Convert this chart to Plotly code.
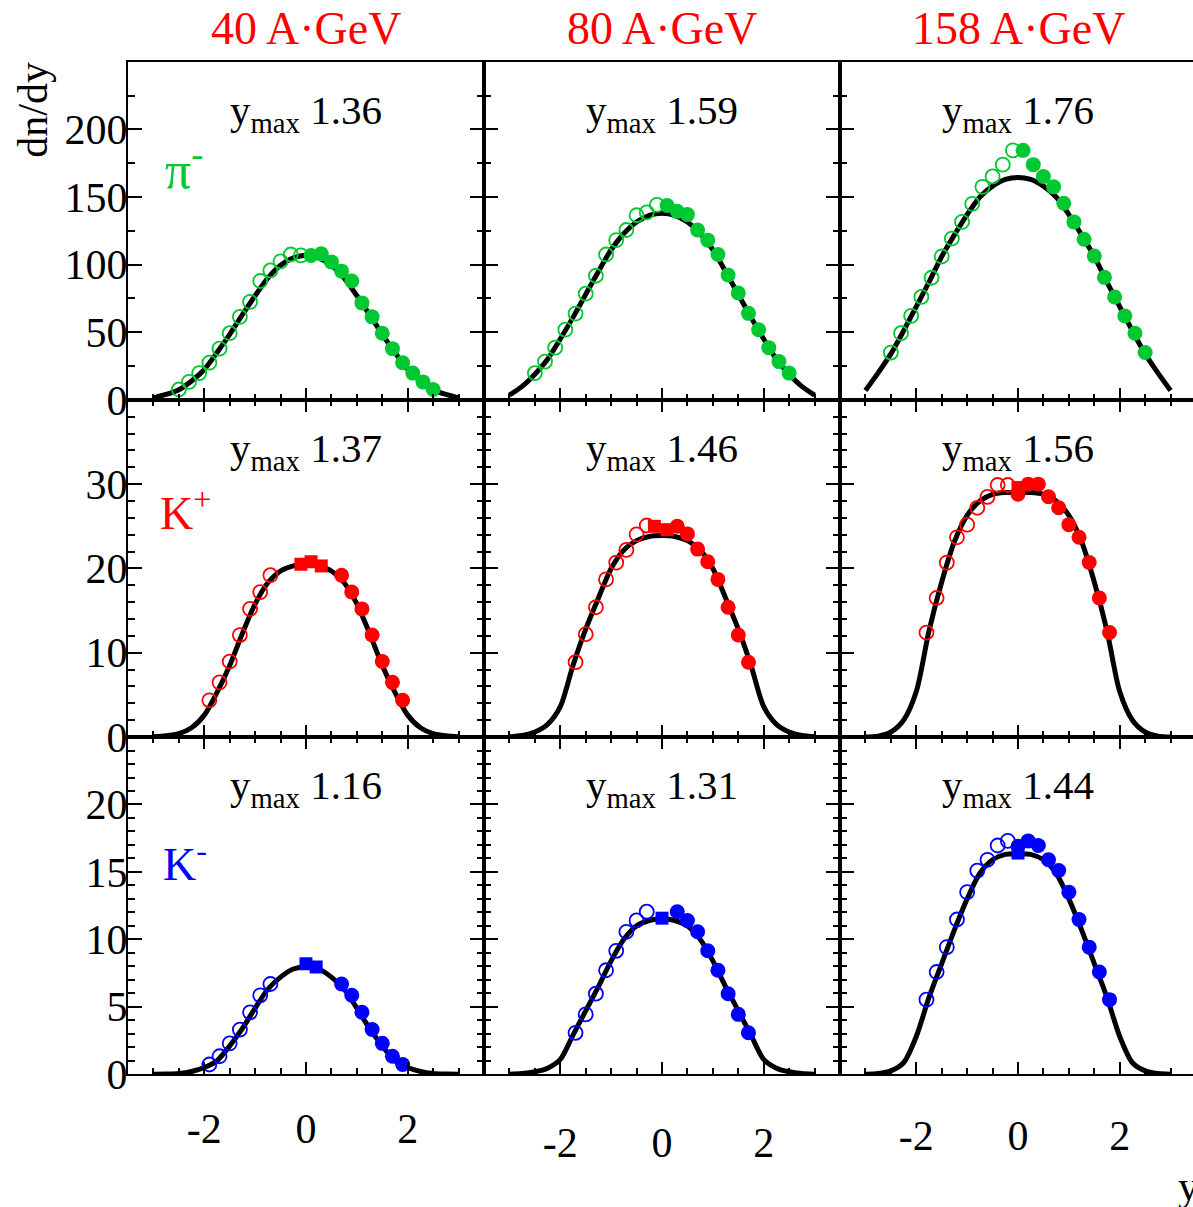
import plotly.graph_objects as go

W, H = 1193, 1207

# ---------------- data ----------------
energies = ["40 A·GeV", "80 A·GeV", "158 A·GeV"]
species = ["π<sup>-</sup>", "K<sup>+</sup>", "K<sup>-</sup>"]
ymax_values = [["1.36", "1.59", "1.76"],
               ["1.37", "1.46", "1.56"],
               ["1.16", "1.31", "1.44"]]

curve_rap = [-3.0, -2.75, -2.5, -2.25, -2.0, -1.75, -1.5, -1.25, -1.0, -0.75, -0.5, -0.25, 0.0,
             0.25, 0.5, 0.75, 1.0, 1.25, 1.5, 1.75, 2.0, 2.25, 2.5, 2.75, 3.0]

# pi- curves
pi40_curve = [1.5, 4, 7.5, 14, 22.5, 35, 48.5, 63, 77, 90, 99.5, 105, 107,
              105, 99.5, 90, 77, 63, 48.5, 35, 22.5, 14, 7.5, 4, 1.5]
pi80_curve = [3.5, 10, 19, 30, 45, 61, 78, 95, 111, 123, 131.5, 136.5, 138,
              136.5, 131.5, 123, 111, 95, 78, 61, 45, 30, 19, 10, 3.5]
pi158_curve = [7, 20, 34, 51, 69, 87, 106, 122, 137, 150, 158, 163, 164.5,
               163, 158, 150, 137, 122, 106, 87, 69, 51, 34, 20, 7]
# K+ curves
kp40_curve = [0.05, 0.15, 0.4, 1.1, 2.6, 5.3, 8.5, 12.3, 15.8, 18.3, 19.7, 20.3, 20.5,
              20.3, 19.7, 18.3, 15.8, 12.3, 8.5, 5.3, 2.6, 1.1, 0.4, 0.15, 0.05]
kp80_curve = [0.05, 0.2, 0.6, 1.5, 3.6, 8.5, 12.8, 16.5, 20.0, 22.2, 23.3, 23.8, 23.9,
              23.8, 23.3, 22.2, 20.0, 16.5, 12.8, 8.5, 3.6, 1.5, 0.6, 0.2, 0.05]
kp158_curve = [0.0, 0.1, 0.6, 2.0, 5.4, 12.6, 18.4, 23.2, 26.3, 28.0, 28.8, 29.0, 29.0,
               29.0, 28.8, 28.0, 26.3, 23.2, 18.4, 12.6, 5.4, 2.0, 0.6, 0.1, 0.0]
# K- curves
km40_curve = [0.0, 0.01, 0.05, 0.2, 0.5, 1.0, 2.1, 3.4, 4.9, 6.3, 7.2, 7.8, 7.95,
              7.8, 7.2, 6.3, 4.9, 3.4, 2.1, 1.0, 0.5, 0.2, 0.05, 0.01, 0.0]
km80_curve = [0.0, 0.05, 0.18, 0.45, 1.1, 2.9, 4.7, 6.5, 8.4, 10.0, 11.0, 11.4, 11.5,
              11.4, 11.0, 10.0, 8.4, 6.5, 4.7, 2.9, 1.1, 0.45, 0.18, 0.05, 0.0]
km158_curve = [0.0, 0.05, 0.25, 0.85, 2.8, 5.7, 8.2, 10.7, 13.0, 14.9, 15.9, 16.3, 16.35,
               16.3, 15.9, 14.9, 13.0, 10.7, 8.2, 5.7, 2.8, 0.85, 0.25, 0.05, 0.0]

# pi- data: open (reflected) and filled (measured) points
pi_open_rap = [-2.5, -2.3, -2.1, -1.9, -1.7, -1.5, -1.3, -1.1, -0.9, -0.7, -0.5, -0.3, -0.1]
pi_fill_rap = [0.1, 0.3, 0.5, 0.7, 0.9, 1.1, 1.3, 1.5, 1.7, 1.9, 2.1, 2.3, 2.5]
pi40_open = [7.7, 13.3, 19.8, 27.5, 37.9, 49.3, 61.4, 72.5, 87.9, 95.7, 102.4, 107.5, 106.8]
pi40_fill = [106.8, 108, 102, 95.2, 87.9, 71.7, 61.4, 49.3, 37.9, 27.5, 19.8, 13.3, 7.7]
pi80_open = [19.8, 28.3, 38.6, 51.9, 63.8, 78.5, 91.8, 107.5, 118.1, 125.6, 136.5, 138.6, 144.2]
pi80_fill = [143.7, 139.4, 137.0, 125.6, 118.1, 107.5, 92.3, 79.0, 64.0, 51.9, 38.6, 28.3, 19.8]
pi158_open = [35.0, 49.3, 62.1, 76.1, 90.3, 106, 119.3, 131.6, 144.9, 157.5, 165.2, 173.9, 184.5]
pi158_fill = [184.5, 173.9, 165.2, 157.5, 145.4, 131.6, 118.8, 106.3, 90.6, 76.1, 62.1, 49.3, 35.0]

# K+ data
kp40_open_rap = [-1.9, -1.7, -1.5, -1.3, -1.1, -0.9, -0.7]
kp40_open = [4.36, 6.49, 8.96, 12.1, 15.2, 17.2, 19.2]
kp40_sq_rap = [-0.1, 0.1, 0.3]
kp40_sq = [20.5, 20.8, 20.3]
kp40_fill_rap = [0.7, 0.9, 1.1, 1.3, 1.5, 1.7, 1.9]
kp40_fill = [19.2, 17.2, 15.2, 12.1, 8.96, 6.49, 4.36]

kp80_open_rap = [-1.7, -1.5, -1.3, -1.1, -0.9, -0.7, -0.5, -0.3]
kp80_open = [8.88, 12.2, 15.4, 18.7, 20.7, 22.2, 24.05, 25.1]
kp80_sq_rap = [-0.15, 0.1]
kp80_sq = [25.0, 24.6]
kp80_sq_err = [0.6, 0.0]
kp80_fill_rap = [0.3, 0.5, 0.7, 0.9, 1.1, 1.3, 1.5, 1.7]
kp80_fill = [25.0, 24.1, 22.3, 20.8, 18.7, 15.4, 12.1, 8.88]

kp158_open_rap = [-1.8, -1.6, -1.4, -1.2, -1.0, -0.8, -0.6, -0.4, -0.2]
kp158_open = [12.4, 16.5, 20.7, 23.7, 25.2, 27.2, 28.5, 29.9, 29.9]
kp158_sq_rap = [0.0]
kp158_sq = [29.6]
kp158_sq_err = [0.6]
kp158_fill_rap = [0.0, 0.2, 0.4, 0.6, 0.8, 1.0, 1.2, 1.4, 1.6, 1.8]
kp158_fill = [28.8, 30.0, 30.0, 28.5, 27.2, 25.2, 23.7, 20.7, 16.5, 12.4]

# K- data
km40_open_rap = [-1.9, -1.7, -1.5, -1.3, -1.1, -0.9, -0.7]
km40_open = [0.72, 1.33, 2.29, 3.31, 4.59, 5.85, 6.69]
km40_sq_rap = [0.0, 0.2]
km40_sq = [8.19, 7.95]
km40_fill_rap = [0.7, 0.9, 1.1, 1.3, 1.5, 1.7, 1.9]
km40_fill = [6.69, 5.85, 4.59, 3.31, 2.29, 1.33, 0.72]

km80_open_rap = [-1.7, -1.5, -1.3, -1.1, -0.9, -0.7, -0.5, -0.3]
km80_open = [3.07, 4.44, 5.97, 7.71, 9.15, 10.56, 11.4, 12.05]
km80_sq_rap = [0.0]
km80_sq = [11.57]
km80_fill_rap = [0.3, 0.5, 0.7, 0.9, 1.1, 1.3, 1.5, 1.7]
km80_fill = [12.05, 11.4, 10.56, 9.15, 7.71, 5.97, 4.44, 3.07]

km158_open_rap = [-1.8, -1.6, -1.4, -1.2, -1.0, -0.8, -0.6, -0.4, -0.2]
km158_open = [5.53, 7.58, 9.42, 11.47, 13.5, 15.1, 15.9, 16.96, 17.3]
km158_sq_rap = [0.0]
km158_sq = [16.4]
km158_fill_rap = [0.0, 0.2, 0.4, 0.6, 0.8, 1.0, 1.2, 1.4, 1.6, 1.8]
km158_fill = [16.9, 17.3, 16.96, 15.9, 15.1, 13.5, 11.47, 9.42, 7.58, 5.53]

# axis ticks
x_tickvals = [-2, 0, 2]
x_ticktext = ["-2", "0", "2"]
y_tickvals = [[0, 50, 100, 150, 200], [0, 10, 20, 30], [0, 5, 10, 15, 20]]
y_ranges = [[0, 250], [0, 40], [0, 25]]
y_minor = [25, 2, 1]

# ---------------- styling ----------------
GREEN = "rgb(0,200,50)"
RED = "rgb(255,0,0)"
BLUE = "rgb(0,0,255)"
row_colors = [GREEN, RED, BLUE]
FONT = "Liberation Serif"

panels = [
    [dict(curve=pi40_curve, open=(pi_open_rap, pi40_open), fill=(pi_fill_rap, pi40_fill)),
     dict(curve=pi80_curve, open=(pi_open_rap, pi80_open), fill=(pi_fill_rap, pi80_fill)),
     dict(curve=pi158_curve, open=(pi_open_rap, pi158_open), fill=(pi_fill_rap, pi158_fill))],
    [dict(curve=kp40_curve, open=(kp40_open_rap, kp40_open), fill=(kp40_fill_rap, kp40_fill),
          sq=(kp40_sq_rap, kp40_sq, None)),
     dict(curve=kp80_curve, open=(kp80_open_rap, kp80_open), fill=(kp80_fill_rap, kp80_fill),
          sq=(kp80_sq_rap, kp80_sq, kp80_sq_err)),
     dict(curve=kp158_curve, open=(kp158_open_rap, kp158_open), fill=(kp158_fill_rap, kp158_fill),
          sq=(kp158_sq_rap, kp158_sq, kp158_sq_err))],
    [dict(curve=km40_curve, open=(km40_open_rap, km40_open), fill=(km40_fill_rap, km40_fill),
          sq=(km40_sq_rap, km40_sq, None)),
     dict(curve=km80_curve, open=(km80_open_rap, km80_open), fill=(km80_fill_rap, km80_fill),
          sq=(km80_sq_rap, km80_sq, None)),
     dict(curve=km158_curve, open=(km158_open_rap, km158_open), fill=(km158_fill_rap, km158_fill),
          sq=(km158_sq_rap, km158_sq, None))],
]

col_px = [(128, 484), (484, 840), (840, 1193)]
row_px = [(63, 408), (408, 752), (752, 1096)]
px_per_unit = 356 / 7.0
x_label_standoff = [16, 30, 23]

fig = go.Figure()
layout = dict(
    width=W, height=H, margin=dict(l=0, r=0, t=0, b=0),
    paper_bgcolor="white", plot_bgcolor="white", showlegend=False,
    font=dict(family=FONT, color="black"),
)

annotations = []
for r in range(3):
    for c in range(3):
        k = r * 3 + c + 1
        xa = "x" if k == 1 else f"x{k}"
        ya = "y" if k == 1 else f"y{k}"
        p = panels[r][c]
        col = row_colors[r]
        fig.add_trace(go.Scatter(x=curve_rap, y=p["curve"], mode="lines",
                                 line=dict(color="black", width=5, shape="spline", smoothing=0.8),
                                 xaxis=xa, yaxis=ya, hoverinfo="skip"))
        ox, oy = p["open"]
        fig.add_trace(go.Scatter(x=ox, y=oy, mode="markers",
                                 marker=dict(symbol="circle-open", size=14, color=col,
                                             line=dict(width=1.8, color=col)),
                                 xaxis=xa, yaxis=ya))
        if "sq" in p:
            sx, sy, se = p["sq"]
            kw = {}
            if se is not None:
                kw["error_y"] = dict(type="data", array=se, color=col, thickness=2, width=0)
            fig.add_trace(go.Scatter(x=sx, y=sy, mode="markers",
                                     marker=dict(symbol="square", size=13, color=col),
                                     xaxis=xa, yaxis=ya, **kw))
        fx, fy = p["fill"]
        fig.add_trace(go.Scatter(x=fx, y=fy, mode="markers",
                                 marker=dict(symbol="circle", size=15, color=col),
                                 xaxis=xa, yaxis=ya))

        x0, x1 = col_px[c]
        y0, y1 = row_px[r]
        xrange = [-3.5, -3.5 + (x1 - x0) / px_per_unit]
        xkey = "xaxis" if k == 1 else f"xaxis{k}"
        ykey = "yaxis" if k == 1 else f"yaxis{k}"
        layout[xkey] = dict(
            domain=[x0 / W, x1 / W], anchor=ya, range=xrange,
            showgrid=False, zeroline=False, showline=True, linecolor="black", linewidth=2,
            mirror=True if r == 0 else "ticks",
            ticks="inside", ticklen=12, tickwidth=2, tickcolor="black",
            tickmode="array", tickvals=x_tickvals, ticktext=x_ticktext,
            showticklabels=(r == 2), ticklabelstandoff=x_label_standoff[c],
            tickfont=dict(family=FONT, size=42, color="black"),
            minor=dict(ticks="inside", dtick=0.5, tick0=0, ticklen=6, tickwidth=2,
                       tickcolor="black", showgrid=False),
            fixedrange=True,
        )
        layout[ykey] = dict(
            domain=[1 - y1 / H, 1 - y0 / H], anchor=xa, range=y_ranges[r],
            showgrid=False, zeroline=False, showline=True, linecolor="black", linewidth=2,
            mirror="ticks" if c < 2 else False,
            ticks="inside", ticklen=14, tickwidth=2, tickcolor="black",
            tickmode="array", tickvals=y_tickvals[r],
            showticklabels=(c == 0), ticklabelstandoff=-10,
            tickfont=dict(family=FONT, size=42, color="black"),
            minor=dict(ticks="inside", dtick=y_minor[r], tick0=0, ticklen=7, tickwidth=2,
                       tickcolor="black", showgrid=False),
            fixedrange=True,
        )
        # y_max label
        annotations.append(dict(
            x=(x0 + 178) / W, y=1 - (y0 + 52) / H, xref="paper", yref="paper",
            text="y<sub>max</sub>\u00a0" + ymax_values[r][c], showarrow=False,
            xanchor="center", yanchor="middle",
            font=dict(family=FONT, size=41, color="black")))

# column headers
for c in range(3):
    x0, x1 = col_px[c]
    annotations.append(dict(
        x=(x0 + 178) / W, y=1 - 29 / H, xref="paper", yref="paper",
        text=energies[c], showarrow=False, xanchor="center", yanchor="middle",
        font=dict(family=FONT, size=46, color=RED)))

# species labels
species_pos = [(163, 170, 52), (158, 520, 46), (161, 878, 46)]
for r in range(3):
    sx, sy, fs = species_pos[r]
    annotations.append(dict(
        x=sx / W, y=1 - sy / H, xref="paper", yref="paper",
        text=species[r], showarrow=False, xanchor="left", yanchor="middle",
        font=dict(family=FONT, size=fs, color=row_colors[r])))

# axis titles
annotations.append(dict(x=33 / W, y=1 - 112 / H, xref="paper", yref="paper",
                        text="dn/dy", textangle=-90, showarrow=False,
                        xanchor="center", yanchor="middle",
                        font=dict(family=FONT, size=42, color="black")))
annotations.append(dict(x=1176 / W, y=1 - 1210 / H, xref="paper", yref="paper",
                        text="y", showarrow=False, xanchor="left", yanchor="middle",
                        font=dict(family=FONT, size=42, color="black")))

layout["annotations"] = annotations
fig.update_layout(**layout)
fig.write_html("out.html")
